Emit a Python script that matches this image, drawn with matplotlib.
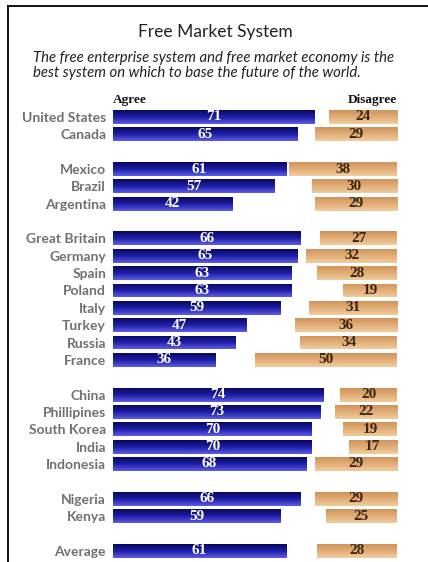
import matplotlib
matplotlib.use("Agg")
import matplotlib.pyplot as plt
from matplotlib.colors import LinearSegmentedColormap
from matplotlib.lines import Line2D
import numpy as np

# Данные опроса (None = пустая строка между группами)
countries = ["United States", "Canada", None,
             "Mexico", "Brazil", "Argentina", None,
             "Great Britain", "Germany", "Spain", "Poland", "Italy", "Turkey", "Russia", "France", None,
             "China", "Phillipines", "South Korea", "India", "Indonesia", None,
             "Nigeria", "Kenya", None,
             "Average"]
agree = [71, 65, None,
         61, 57, 42, None,
         66, 65, 63, 63, 59, 47, 43, 36, None,
         74, 73, 70, 70, 68, None,
         66, 59, None,
         61]
disagree = [24, 29, None,
            38, 30, 29, None,
            27, 32, 28, 19, 31, 36, 34, 50, None,
            20, 22, 19, 17, 29, None,
            29, 25, None,
            28]

W, H = 428, 562
fig = plt.figure(figsize=(W / 100, H / 100), dpi=100)
fig.patch.set_facecolor("white")

# Рамка слева и сверху
fig.add_artist(Line2D([8 / W, 8 / W], [0, 1 - 6 / H], color="black", lw=1.3))
fig.add_artist(Line2D([8 / W, 1], [1 - 6 / H, 1 - 6 / H], color="black", lw=1.3))

fig.text(215 / W, 1 - 32 / H, "Free Market System", ha="center", va="center",
         fontsize=12.5, family="Lato", color="#222222")
fig.text(33 / W, 1 - 58 / H, "The free enterprise system and free market economy is the",
         ha="left", va="center", fontsize=10.7, family="Lato", style="italic", color="#222222")
fig.text(33 / W, 1 - 73 / H, "best system on which to base the future of the world.",
         ha="left", va="center", fontsize=10.7, family="Lato", style="italic", color="#222222")

ax = fig.add_axes([113 / W, 2.6 / H, 284 / W, 451.1 / H])
rows = np.arange(len(countries))
idx = [i for i, c in enumerate(countries) if c is not None]
ag = np.array([agree[i] for i in idx])
dis = np.array([disagree[i] for i in idx])
bh = 0.8

blue_cmap = LinearSegmentedColormap.from_list("blue", ["#08085e", "#1e1ea6", "#5c5ce8"])
tan_cmap = LinearSegmentedColormap.from_list("tan", ["#d0945a", "#e2ae78", "#f0cc9e"])
grad = np.linspace(0, 1, 64).reshape(-1, 1)

ag_bars = ax.barh(rows[idx], ag, height=bh, color="#1e1ea6")
dis_bars = ax.barh(rows[idx], dis, left=100 - dis, height=bh, color="#e2ae78")

# Вертикальный градиент внутри каждого бара
for bars, cmap in ((ag_bars, blue_cmap), (dis_bars, tan_cmap)):
    for p in bars:
        x0, y0, w, h = p.get_x(), p.get_y(), p.get_width(), p.get_height()
        im = ax.imshow(grad, extent=(x0, x0 + w, y0 + h, y0), aspect="auto",
                       cmap=cmap, origin="upper", zorder=2)
        im.set_clip_path(p)
        p.set_visible(False)

for r, a, d in zip(rows[idx], ag, dis):
    ax.text(a / 2, r, str(a), ha="center", va="center", color="white",
            fontsize=11, family="Liberation Serif", weight="bold", zorder=3)
    ax.text(100 - d / 2, r, str(d), ha="center", va="center", color="#3a2612",
            fontsize=11, family="Liberation Serif", weight="bold", zorder=3)

ax.text(0, -0.95, "Agree", ha="left", va="center", fontsize=9.5,
        family="Liberation Serif", weight="bold", color="#111111", clip_on=False)
ax.text(100, -0.95, "Disagree", ha="right", va="center", fontsize=9.5,
        family="Liberation Serif", weight="bold", color="#111111", clip_on=False)

ax.set_yticks(rows[idx])
ax.set_yticklabels([countries[i] for i in idx], fontsize=10, family="Lato",
                   weight="bold", color="#707070")
ax.tick_params(axis="y", length=0, pad=5)
ax.set_xticks([])
ax.set_xlim(0, 100)
ax.set_ylim(len(countries) - 0.5, -0.5)
for s in ax.spines.values():
    s.set_visible(False)

fig.savefig("out.png", dpi=100)
